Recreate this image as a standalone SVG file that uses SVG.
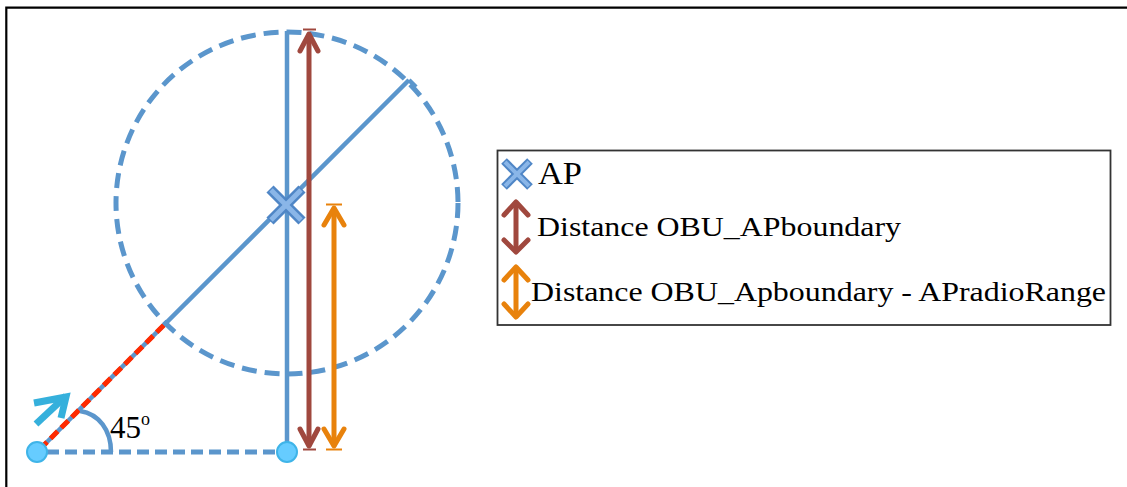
<svg xmlns="http://www.w3.org/2000/svg" width="1127" height="487" viewBox="0 0 1127 487">
  <style>
    .frame { fill: none; stroke: #000; stroke-width: 2.2; }
    .blue { fill: none; stroke: #5b96cc; stroke-width: 4.5; }
    .blue-dash { fill: none; stroke: #5b96cc; stroke-width: 5; stroke-dasharray: 15 8; }
    .base-dash { fill: none; stroke: #5b96cc; stroke-width: 5; stroke-dasharray: 12 6; }
    .red-dash { fill: none; stroke: #ff2a00; stroke-width: 5; stroke-dasharray: 10 5; }
    .dot { fill: #66ccff; stroke: #3fb4e8; stroke-width: 2; }
    .brown { fill: none; stroke: #a0483e; stroke-width: 5; stroke-linecap: round; stroke-linejoin: round; }
    .orange { fill: none; stroke: #e8820c; stroke-width: 5; stroke-linecap: round; stroke-linejoin: round; }
    .tick { stroke-width: 2; stroke-linecap: butt; }
    .cross-out { fill: none; stroke: #4f86c6; stroke-linecap: butt; }
    .cross-in { fill: none; stroke: #8ab6e8; stroke-linecap: butt; }
    .label { font-family: "Liberation Serif", "DejaVu Serif", "Times New Roman", serif; fill: #000; }
    .legend-box { fill: #fff; stroke: #333; stroke-width: 1.8; }
  </style>

  <!-- outer frame (top and left edges) -->
  <path class="frame" d="M6.3 487 V7.6 H1127"/>

  <g id="connectors">
    <!-- coverage circle of the access point -->
    <circle class="blue-dash" cx="287" cy="203" r="171"/>
    <!-- vertical through the AP -->
    <line class="blue" x1="287" y1="31" x2="287" y2="442"/>
    <!-- 45 degree heading line -->
    <line class="blue" x1="37" y1="452" x2="409" y2="80"/>
    <line class="blue" x1="409" y1="80" x2="416" y2="87"/>
    <!-- travelled part before reaching the circle -->
    <line class="red-dash" x1="40" y1="449" x2="166" y2="323"/>
    <!-- ground line -->
    <line class="base-dash" x1="47" y1="452" x2="280" y2="452"/>
    <!-- angle arc -->
    <path class="blue" d="M80 411 C99 414 111 430 111 452"/>

    <!-- distance OBU to AP boundary -->
    <g id="dist-boundary">
      <line class="brown" x1="309" y1="35" x2="309" y2="445"/>
      <polyline class="brown" points="300,51 309,34 318,51"/>
      <polyline class="brown" points="300,429 309,446 318,429"/>
      <line class="brown tick" x1="303" y1="29.5" x2="316" y2="29.5"/>
      <line class="brown tick" x1="303" y1="449.5" x2="316" y2="449.5"/>
    </g>

    <!-- distance OBU to AP boundary minus radio range -->
    <g id="dist-range">
      <line class="orange" x1="334" y1="209" x2="334" y2="445"/>
      <polyline class="orange" points="324,225 334,208 344,225"/>
      <polyline class="orange" points="324,429 334,446 344,429"/>
      <line class="orange tick" x1="326" y1="204.5" x2="342" y2="204.5"/>
      <line class="orange tick" x1="326" y1="449.5" x2="342" y2="449.5"/>
    </g>
  </g>

  <!-- access point marker -->
  <g id="ap">
    <line class="cross-out" stroke-width="10" x1="270" y1="189" x2="302" y2="221"/>
    <line class="cross-out" stroke-width="10" x1="302" y1="189" x2="270" y2="221"/>
    <line class="cross-in" stroke-width="5" x1="271" y1="190" x2="301" y2="220"/>
    <line class="cross-in" stroke-width="5" x1="301" y1="190" x2="271" y2="220"/>
  </g>

  <!-- vehicle position and heading -->
  <g id="obu">
    <circle class="dot" cx="37" cy="452" r="10"/>
    <polyline fill="none" stroke="#35b0dc" stroke-width="7" points="36,424 66,396"/>
    <polyline fill="none" stroke="#35b0dc" stroke-width="7" stroke-linejoin="miter" points="34,403 66,397 61,418"/>
  </g>

  <!-- foot of the perpendicular -->
  <g id="foot">
    <circle class="dot" cx="287" cy="452" r="10"/>
  </g>

  <g id="angle-label">
    <text class="label" x="110" y="438" font-size="31">45<tspan font-size="18" dy="-13">o</tspan></text>
  </g>

  <!-- legend -->
  <g id="legend">
    <rect class="legend-box" x="497.5" y="150.5" width="613" height="174.5"/>
    <line class="cross-out" stroke-width="8" x1="504" y1="161" x2="530" y2="187"/>
    <line class="cross-out" stroke-width="8" x1="530" y1="161" x2="504" y2="187"/>
    <line class="cross-in" stroke-width="4" x1="505" y1="162" x2="529" y2="186"/>
    <line class="cross-in" stroke-width="4" x1="529" y1="162" x2="505" y2="186"/>
    <text class="label" x="538" y="184" font-size="31" textLength="44" lengthAdjust="spacingAndGlyphs">AP</text>

    <line class="brown" stroke-width="6" x1="516" y1="203" x2="516" y2="251"/>
    <polyline class="brown" stroke-width="6" points="504,215 516,202 528,215"/>
    <polyline class="brown" stroke-width="6" points="504,240 516,252 528,240"/>
    <text class="label" x="537" y="236" font-size="28" textLength="364" lengthAdjust="spacingAndGlyphs">Distance OBU_APboundary</text>

    <line class="orange" stroke-width="6" x1="516" y1="268" x2="516" y2="316"/>
    <polyline class="orange" stroke-width="6" points="504,280 516,267 528,280"/>
    <polyline class="orange" stroke-width="6" points="504,304 516,317 528,304"/>
    <text class="label" x="531" y="301" font-size="28" textLength="575" lengthAdjust="spacingAndGlyphs">Distance OBU_Apboundary - APradioRange</text>
  </g>
</svg>
